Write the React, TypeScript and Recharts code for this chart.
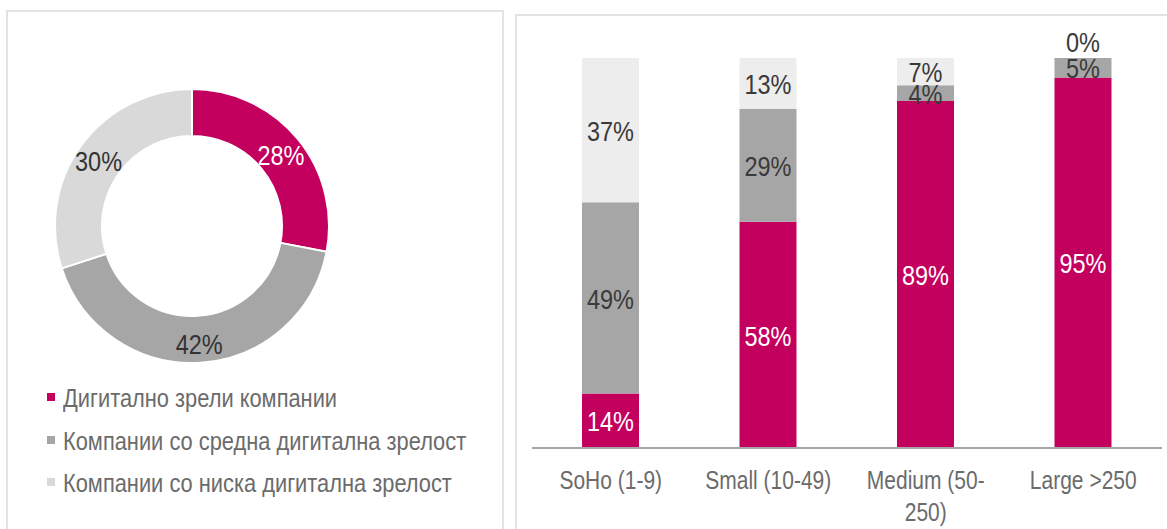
import React from "react";
import { PieChart, Pie, Cell, BarChart, Bar, XAxis, YAxis, LabelList } from "recharts";

const maturityLevels = ["Дигитално зрели компании", "Компании со средна дигитална зрелост", "Компании со ниска дигитална зрелост"];
const maturityShares = [28, 42, 30];
const donutColors = ["#C4005F", "#A6A6A6", "#D9D9D9"];
const donutLabelColors = ["#FFFFFF", "#333333", "#333333"];

const sizeCategories = ["SoHo (1-9)", "Small (10-49)", "Medium (50-\n250)", "Large >250"];
const matureBySize = [14, 58, 89, 95];
const mediumBySize = [49, 29, 4, 5];
const lowBySize = [37, 13, 7, 0];
const barColors = ["#C4005F", "#A6A6A6", "#EDEDED"];
const barLabelColors = ["#FFFFFF", "#3A3A3A", "#3A3A3A"];

const FONT = "'Liberation Sans', Arial, sans-serif";
const SQUEEZE = 0.84;
const RADIAN = Math.PI / 180;

const pieData = maturityLevels.map((name, i) => ({ name, value: maturityShares[i] }));
const barData = sizeCategories.map((cat, i) => ({
  cat,
  mature: matureBySize[i],
  medium: mediumBySize[i],
  low: lowBySize[i],
}));

const NarrowText = ({ x, y, color, size, children }: any) => (
  <text transform={`translate(${x},${y}) scale(${SQUEEZE},1)`} x={0} y={0} fill={color} textAnchor="middle"
    dominantBaseline="central" style={{ fontFamily: FONT, fontSize: size }}>
    {children}
  </text>
);

const renderPieLabel = (props: any) => {
  const { cx, cy, midAngle, innerRadius, outerRadius, index, value } = props;
  const r = (innerRadius + outerRadius) / 2 + 2;
  const x = cx + r * Math.cos(-midAngle * RADIAN);
  const y = cy + r * Math.sin(-midAngle * RADIAN) + 3;
  return (
    <NarrowText x={x} y={y} color={donutLabelColors[index]} size={28}>
      {value}%
    </NarrowText>
  );
};

const makeBarLabel = (series: number) => (props: any) => {
  const { x, y, width, height, value, index } = props;
  const cx = Number(x) + Number(width) / 2;
  const parts = [] as any[];
  if (value) {
    parts.push(
      <NarrowText key="v" x={cx} y={Number(y) + Number(height) / 2 + 1} color={barLabelColors[series]} size={28}>
        {value}%
      </NarrowText>
    );
  }
  // top segment with zero height: its 0% label sits just above the bar
  if (series === 1 && index != null && lowBySize[index] === 0) {
    parts.push(
      <NarrowText key="z" x={cx} y={Number(y) - 16} color={barLabelColors[2]} size={28}>
        {lowBySize[index]}%
      </NarrowText>
    );
  }
  return <g>{parts}</g>;
};

const CatTick = (props: any) => {
  const { x, y, payload } = props;
  const lines = String(payload.value).split("\n");
  return (
    <g>
      {lines.map((l, i) => (
        <NarrowText key={i} x={x} y={y + 24 + i * 32} color="#6B6B6B" size={25}>
          {l}
        </NarrowText>
      ))}
    </g>
  );
};

export default function App() {
  return (
    <div style={{ position: "absolute", left: 0, top: 0, width: 1167, height: 529, overflow: "hidden", background: "#FFFFFF" }}>
      <div style={{ position: "absolute", left: 6, top: 10, width: 494, height: 560, border: "2px solid #E3E3E3" }} />
      <div style={{ position: "absolute", left: 515, top: 14, width: 700, height: 560, border: "2px solid #E3E3E3" }} />

      <div style={{ position: "absolute", left: 0, top: 0 }}>
        <PieChart width={500} height={380} margin={{ top: 0, right: 0, bottom: 0, left: 0 }}>
          <Pie data={pieData} dataKey="value" nameKey="name" cx={192} cy={226} innerRadius={90} outerRadius={137}
            startAngle={90} endAngle={-270} stroke="#FFFFFF" strokeWidth={2} label={renderPieLabel} labelLine={false}
            isAnimationActive={false}>
            {pieData.map((d, i) => (
              <Cell key={d.name} fill={donutColors[i]} />
            ))}
          </Pie>
        </PieChart>
      </div>

      <div style={{ position: "absolute", left: 40, top: 377, width: 460, fontFamily: FONT }}>
        {maturityLevels.map((name, i) => (
          <div key={name} style={{ position: "relative", height: 42.5, lineHeight: "42px", paddingLeft: 23, fontSize: 26, color: "#6B6B6B", whiteSpace: "nowrap" }}>
            <span style={{ position: "absolute", left: 7, top: 16, width: 8, height: 8, background: donutColors[i] }} />
            <span style={{ display: "inline-block", transform: `scaleX(${SQUEEZE})`, transformOrigin: "0 50%" }}>{name}</span>
          </div>
        ))}
      </div>

      <div style={{ position: "absolute", left: 516, top: 14 }}>
        <BarChart width={651} height={515} data={barData} margin={{ top: 44, right: 5, bottom: 11, left: 16 }} barSize={57}>
          <YAxis hide domain={[0, 100]} />
          <XAxis dataKey="cat" tickLine={false} axisLine={{ stroke: "#A6A6A6", strokeWidth: 2 }} height={70}
            tick={<CatTick />} interval={0} />
          <Bar dataKey="mature" stackId="s" fill={barColors[0]} isAnimationActive={false}>
            <LabelList dataKey="mature" content={makeBarLabel(0)} />
          </Bar>
          <Bar dataKey="medium" stackId="s" fill={barColors[1]} isAnimationActive={false}>
            <LabelList dataKey="medium" content={makeBarLabel(1)} />
          </Bar>
          <Bar dataKey="low" stackId="s" fill={barColors[2]} isAnimationActive={false}>
            <LabelList dataKey="low" content={makeBarLabel(2)} />
          </Bar>
        </BarChart>
      </div>
    </div>
  );
}
